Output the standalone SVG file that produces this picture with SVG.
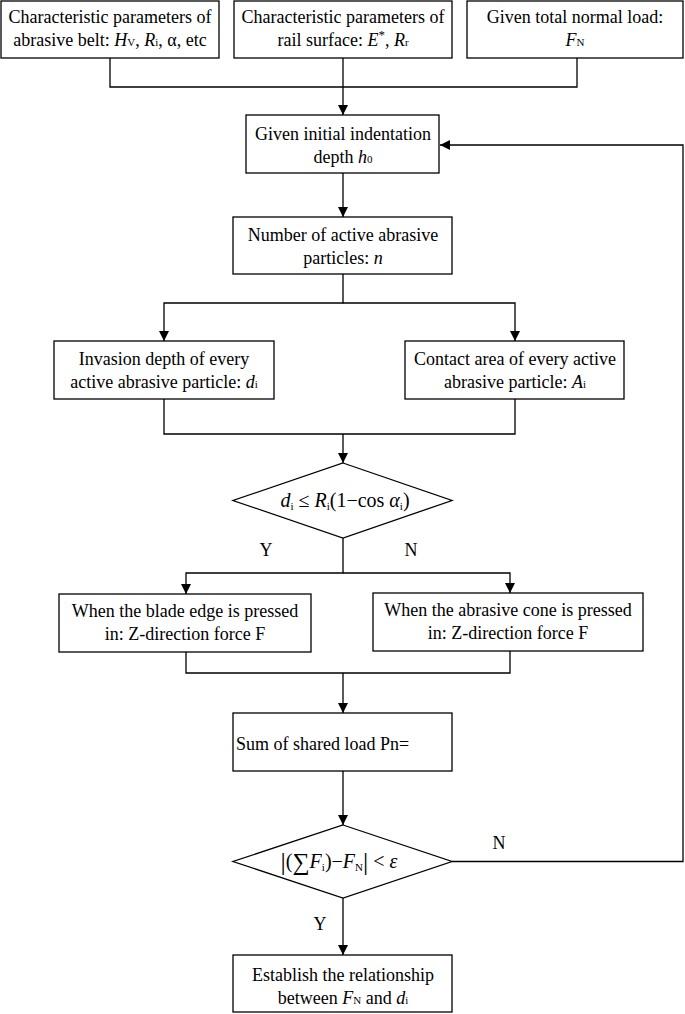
<svg xmlns="http://www.w3.org/2000/svg" width="685" height="1014" viewBox="0 0 685 1014" font-family="'Liberation Serif', 'Times New Roman', serif">
<style>
.box{fill:#fff;stroke:#000;stroke-width:1.3}
.ln{fill:none;stroke:#000;stroke-width:1.3}
text{font-family:'Liberation Serif','Times New Roman',serif;font-size:18px;fill:#000}
.c{text-anchor:middle}
.it{font-style:italic}
.sb{font-size:11px}
.m{font-size:20px}
</style>
<defs>
<marker id="arr" viewBox="0 0 10 10" refX="10" refY="5" markerWidth="10" markerHeight="11" markerUnits="userSpaceOnUse" orient="auto">
<path d="M0,0 L10,5 L0,10 z" fill="#000"/>
</marker>
</defs>
<rect width="685" height="1014" fill="#fff"/>
<g id="connectors">
<path class="ln" d="M110,58 V87 H577 V58"/>
<path class="ln" d="M343,58 V115" marker-end="url(#arr)"/>
<path class="ln" d="M343,173 V217" marker-end="url(#arr)"/>
<path class="ln" d="M343,274 V303 H164 V341" marker-end="url(#arr)"/>
<path class="ln" d="M343,303 H515 V341" marker-end="url(#arr)"/>
<path class="ln" d="M164,399 V434 H515 V399"/>
<path class="ln" d="M343,434 V463" marker-end="url(#arr)"/>
<path class="ln" d="M343,538 V573 H186 V594" marker-end="url(#arr)"/>
<path class="ln" d="M343,573 H510 V593" marker-end="url(#arr)"/>
<path class="ln" d="M186,652 V673 H510 V651"/>
<path class="ln" d="M343,673 V713" marker-end="url(#arr)"/>
<path class="ln" d="M343,771 V825" marker-end="url(#arr)"/>
<path class="ln" d="M452,861.5 H683 V145 H440" marker-end="url(#arr)"/>
<path class="ln" d="M343,898 V955" marker-end="url(#arr)"/>
<text x="266" y="556" class="c">Y</text>
<text x="411" y="556" class="c">N</text>
<text x="499" y="849" class="c">N</text>
<text x="320" y="930" class="c">Y</text>
</g>
<g id="n1">
<rect class="box" x="1" y="1" width="218" height="57"/>
<text x="110" y="23" class="c">Characteristic parameters of</text>
<text x="110" y="46" class="c">abrasive belt: <tspan class="it">H</tspan><tspan class="sb">V</tspan>, <tspan class="it">R</tspan><tspan class="sb">i</tspan>, α, etc</text>
</g>
<g id="n2">
<rect class="box" x="234" y="1" width="218" height="57"/>
<text x="343" y="23" class="c">Characteristic parameters of</text>
<text x="343" y="46" class="c">rail surface: <tspan class="it">E</tspan><tspan font-size="13" dy="-7">*</tspan><tspan dy="7">, </tspan><tspan class="it">R</tspan><tspan class="sb">r</tspan></text>
</g>
<g id="n3">
<rect class="box" x="467" y="1" width="216" height="57"/>
<text x="575" y="23" class="c">Given total normal load:</text>
<text x="575" y="46" class="c"><tspan class="it">F</tspan><tspan class="sb">N</tspan></text>
</g>
<g id="n4">
<rect class="box" x="246" y="115" width="193" height="58"/>
<text x="343" y="140" class="c">Given initial indentation</text>
<text x="343" y="163" class="c">depth <tspan class="it">h</tspan><tspan class="sb">0</tspan></text>
</g>
<g id="n5">
<rect class="box" x="233" y="217" width="219" height="57"/>
<text x="343" y="241" class="c">Number of active abrasive</text>
<text x="343" y="264" class="c">particles: <tspan class="it">n</tspan></text>
</g>
<g id="n6">
<rect class="box" x="54" y="341" width="220" height="58"/>
<text x="164" y="365" class="c">Invasion depth of every</text>
<text x="164" y="388" class="c">active abrasive particle: <tspan class="it">d</tspan><tspan class="sb">i</tspan></text>
</g>
<g id="n7">
<rect class="box" x="405" y="341" width="219" height="58"/>
<text x="515" y="365" class="c">Contact area of every active</text>
<text x="515" y="388" class="c">abrasive particle: <tspan class="it">A</tspan><tspan class="sb">i</tspan></text>
</g>
<g id="n8">
<polygon class="box" points="343,463 452,500.5 343,538 233,500.5"/>
<text x="345" y="507" class="c m"><tspan class="it">d</tspan><tspan class="sb" dy="3">i</tspan><tspan dy="-3"> ≤ </tspan><tspan class="it">R</tspan><tspan class="sb" dy="3">i</tspan><tspan dy="-3">(1−cos </tspan><tspan class="it">α</tspan><tspan class="sb" dy="3">i</tspan><tspan dy="-3">)</tspan></text>
</g>
<g id="n9">
<rect class="box" x="59" y="594" width="252" height="58"/>
<text x="185" y="617" class="c">When the blade edge is pressed</text>
<text x="185" y="640" class="c">in: Z-direction force F</text>
</g>
<g id="n10">
<rect class="box" x="373" y="593" width="270" height="58"/>
<text x="508" y="616" class="c">When the abrasive cone is pressed</text>
<text x="508" y="639" class="c">in: Z-direction force F</text>
</g>
<g id="n11">
<rect class="box" x="233" y="713" width="219" height="58"/>
<text x="236" y="750">Sum of shared load Pn=</text>
</g>
<g id="n12">
<polygon class="box" points="343,825 452,861.5 343,898 233,861.5"/>
<text x="339" y="868" class="c m"><tspan font-size="26" dy="2">|</tspan><tspan dy="-2">(</tspan><tspan font-size="24" dy="2">∑</tspan><tspan class="it" dy="-2">F</tspan><tspan class="sb" dy="3">i</tspan><tspan dy="-3">)−</tspan><tspan class="it">F</tspan><tspan class="sb" dy="3">N</tspan><tspan font-size="26" dy="-1">|</tspan><tspan dy="-2"> &lt; </tspan><tspan class="it">ε</tspan></text>
</g>
<g id="n13">
<rect class="box" x="233" y="955" width="219" height="57"/>
<text x="343" y="981" class="c">Establish the relationship</text>
<text x="343" y="1004" class="c">between <tspan class="it">F</tspan><tspan class="sb">N</tspan> and <tspan class="it">d</tspan><tspan class="sb">i</tspan></text>
</g>
</svg>
